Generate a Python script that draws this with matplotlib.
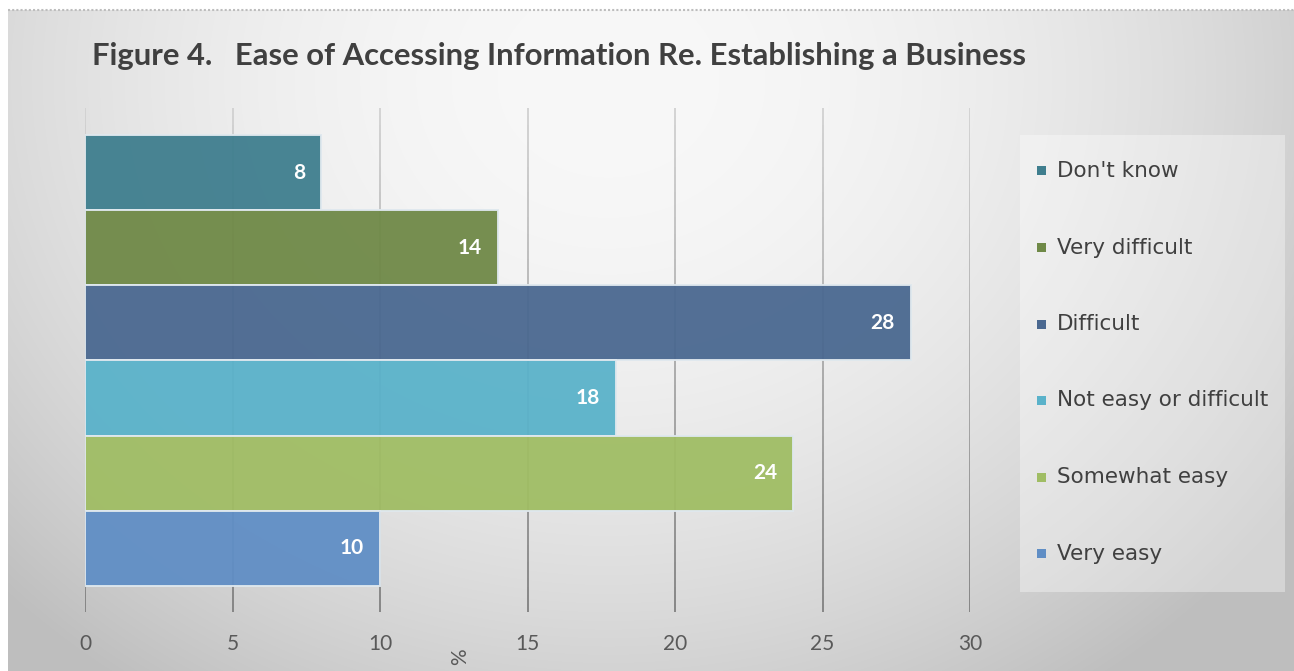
import numpy as np
import matplotlib
matplotlib.use("Agg")
import matplotlib.pyplot as plt
from matplotlib.patches import Rectangle
from matplotlib.collections import LineCollection

# --- data -------------------------------------------------------------
categories = ["Don't know", "Very difficult", "Difficult",
              "Not easy or difficult", "Somewhat easy", "Very easy"]
values = [8, 14, 28, 18, 24, 10]
colors = ["#3f7e8e", "#6f8947", "#4a6890", "#5ab2ca", "#a0bd64", "#608ec5"]
x_ticks = [0, 5, 10, 15, 20, 25, 30]
title = "Figure 4.   Ease of Accessing Information Re. Establishing a Business"
x_label = "%"

W, H = 1294, 671
fig = plt.figure(figsize=(W / 100, H / 100), dpi=100)
fig.patch.set_facecolor("white")

# --- soft radial background --------------------------------------------
bg = fig.add_axes([8 / W, 0, 1 - 8 / W, 1 - 10 / H], zorder=-5)
yy, xx = np.mgrid[0:H - 10, 0:W - 8]
d2 = ((xx - 600) / 800.0) ** 2 + ((yy - 70) / 700.0) ** 2
shade = np.clip(248 - 52 * d2, 190, 248) / 255.0
bg.imshow(np.dstack([shade] * 3), aspect="auto", interpolation="bilinear")
bg.axis("off")
fig.add_artist(plt.Line2D([8 / W, 1], [1 - 10 / H] * 2, color="#bdbdbd",
                          lw=1.5, ls=(0, (1, 1)), transform=fig.transFigure))

# --- main axes ----------------------------------------------------------
ax_l, ax_r = 85, 970
ax_t, ax_b = 108, 612
ax = fig.add_axes([ax_l / W, 1 - ax_b / H, (ax_r - ax_l) / W, (ax_b - ax_t) / H])
ax.set_facecolor("none")

n = len(categories)
ypos = np.arange(n)[::-1]  # first category on top
y_lo, y_hi = -0.845, n - 1 + 0.858
ax.set_xlim(0, 30)
ax.set_ylim(y_lo, y_hi)

# vertical gridlines fading from light at the top to darker at the bottom
nseg = 60
ys = np.linspace(y_lo, y_hi, nseg + 1)
segs, cols = [], []
for xt in x_ticks:
    for k in range(nseg):
        segs.append([(xt, ys[k]), (xt, ys[k + 1])])
        f = k / (nseg - 1)            # 0 bottom -> 1 top
        g = (0.50 + 0.32 * f)
        cols.append((g, g, g))
ax.add_collection(LineCollection(segs, colors=cols, linewidths=1.3, zorder=1,
                                 capstyle="butt"))

bars = ax.barh(ypos, values, height=1.0, color=colors, alpha=0.95,
               edgecolor="#dfe8ee", linewidth=1.4, zorder=2)

for y, v in zip(ypos, values):
    ax.annotate(str(v), xy=(v, y), xytext=(-16, 0), textcoords="offset pixels",
                ha="right", va="center", color="white", fontsize=15,
                fontweight="bold", family=["Lato", "DejaVu Sans"], zorder=4)

ax.set_xticks(x_ticks)
ax.set_yticks([])
for s in ax.spines.values():
    s.set_visible(False)
ax.tick_params(axis="x", length=0, pad=16, labelsize=15, labelcolor="#595959")
for lab in ax.get_xticklabels():
    lab.set_family(["Lato", "DejaVu Sans"])

ax.set_xlabel(x_label, rotation=90, fontsize=15, color="#595959",
              family=["Lato", "DejaVu Sans"])
ax.xaxis.set_label_coords((460 - ax_l) / (ax_r - ax_l), -(657 - ax_b) / (ax_b - ax_t))
ax.xaxis.label.set_va("center")

# --- title ----------------------------------------------------------------
fig.text(92 / W, 1 - 56 / H, title, ha="left", va="center", fontsize=22.3,
         fontweight="bold", color="#404040", family=["Lato", "DejaVu Sans"])

# --- legend -----------------------------------------------------------------
lx0, lx1, ly0, ly1 = 1020, 1285, 135, 592
fig.add_artist(Rectangle((lx0 / W, 1 - ly1 / H), (lx1 - lx0) / W, (ly1 - ly0) / H,
                         transform=fig.transFigure, facecolor="white",
                         alpha=0.35, edgecolor="none"))
sq = 9
for i, (cat, col) in enumerate(zip(categories, colors)):
    yc = 171 + i * 76.5
    fig.add_artist(Rectangle(((1041 - sq / 2) / W, 1 - (yc + sq / 2) / H), sq / W, sq / H,
                             transform=fig.transFigure, facecolor=col, edgecolor="none"))
    fig.text(1057 / W, 1 - yc / H, cat, ha="left", va="center", fontsize=15.5,
             color="#404040", family=["DejaVu Sans"])

fig.savefig("out.png", dpi=100)
